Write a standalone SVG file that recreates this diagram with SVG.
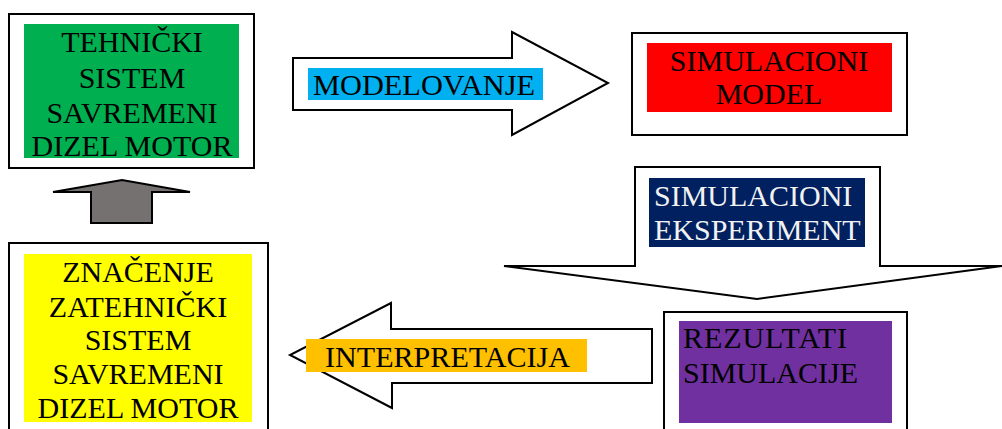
<svg xmlns="http://www.w3.org/2000/svg" width="1002" height="429" viewBox="0 0 1002 429">
  <style>
    .frame { fill: #ffffff; stroke: #000000; stroke-width: 2; }
    .arrow { fill: #ffffff; stroke: #000000; stroke-width: 2; stroke-linejoin: miter; }
    .lbl { font-family: "Liberation Serif", "Times New Roman", serif; font-size: 30px; fill: #000000; }
    .inv { fill: #f2f2f2; }
    .mid { text-anchor: middle; }
  </style>
  <rect width="1002" height="429" fill="#ffffff"/>

  <!-- connectors (block arrows) -->
  <g id="connectors">
    <g id="arrow-modelovanje">
      <polygon class="arrow" points="293,58 512,58 512,32 608,83 512,135 512,110 293,110"/>
      <rect x="308" y="68" width="235" height="32" fill="#00B0F0"/>
      <text class="lbl" x="313" y="95" textLength="222" lengthAdjust="spacingAndGlyphs">MODELOVANJE</text>
    </g>
    <g id="arrow-eksperiment">
      <polygon class="arrow" points="635,167 880,167 880,266 1002,266 757,299 504,266 635,266"/>
      <rect x="649" y="178" width="216" height="69" fill="#002060"/>
      <text class="lbl inv" x="654" y="206">SIMULACIONI</text>
      <text class="lbl inv" x="654" y="240">EKSPERIMENT</text>
    </g>
    <g id="arrow-interpretacija">
      <polygon class="arrow" points="652,329 391,329 391,303 290,355 392,408 392,383 652,383"/>
      <rect x="306" y="339" width="281" height="33" fill="#FFC000"/>
      <text class="lbl" x="325" y="367" textLength="245" lengthAdjust="spacingAndGlyphs">INTERPRETACIJA</text>
    </g>
    <g id="arrow-povratak">
      <polygon points="91,223 152,223 152,192 190,192 122,180 53,192 91,192" fill="#767171" stroke="#000000" stroke-width="2"/>
    </g>
  </g>

  <!-- node: technical system -->
  <g id="node-tehnicki-sistem">
    <rect class="frame" x="9" y="14" width="245" height="154"/>
    <rect x="24" y="24" width="215" height="134" fill="#00B050"/>
    <text class="lbl mid" x="132" y="52">TEHNIČKI</text>
    <text class="lbl mid" x="132" y="88">SISTEM</text>
    <text class="lbl mid" x="132" y="123">SAVREMENI</text>
    <text class="lbl mid" x="132" y="156">DIZEL MOTOR</text>
  </g>

  <!-- node: simulation model -->
  <g id="node-simulacioni-model">
    <rect class="frame" x="632" y="33" width="275" height="102"/>
    <rect x="647" y="43" width="245" height="69" fill="#FF0000"/>
    <text class="lbl mid" x="769" y="71">SIMULACIONI</text>
    <text class="lbl mid" x="769" y="104">MODEL</text>
  </g>

  <!-- node: simulation results -->
  <g id="node-rezultati">
    <rect class="frame" x="664" y="312" width="243" height="130"/>
    <rect x="679" y="321" width="213" height="102" fill="#7030A0"/>
    <text class="lbl" x="683" y="348" textLength="164" lengthAdjust="spacing">REZULTATI</text>
    <text class="lbl" x="683" y="383">SIMULACIJE</text>
  </g>

  <!-- node: meaning for the technical system -->
  <g id="node-znacenje">
    <rect class="frame" x="9" y="243" width="259" height="200"/>
    <rect x="24" y="254" width="228" height="168" fill="#FFFF00"/>
    <text class="lbl mid" x="138" y="282">ZNAČENJE</text>
    <text class="lbl mid" x="138" y="317">ZATEHNIČKI</text>
    <text class="lbl mid" x="138" y="350">SISTEM</text>
    <text class="lbl mid" x="138" y="384">SAVREMENI</text>
    <text class="lbl mid" x="138" y="418">DIZEL MOTOR</text>
  </g>
</svg>
